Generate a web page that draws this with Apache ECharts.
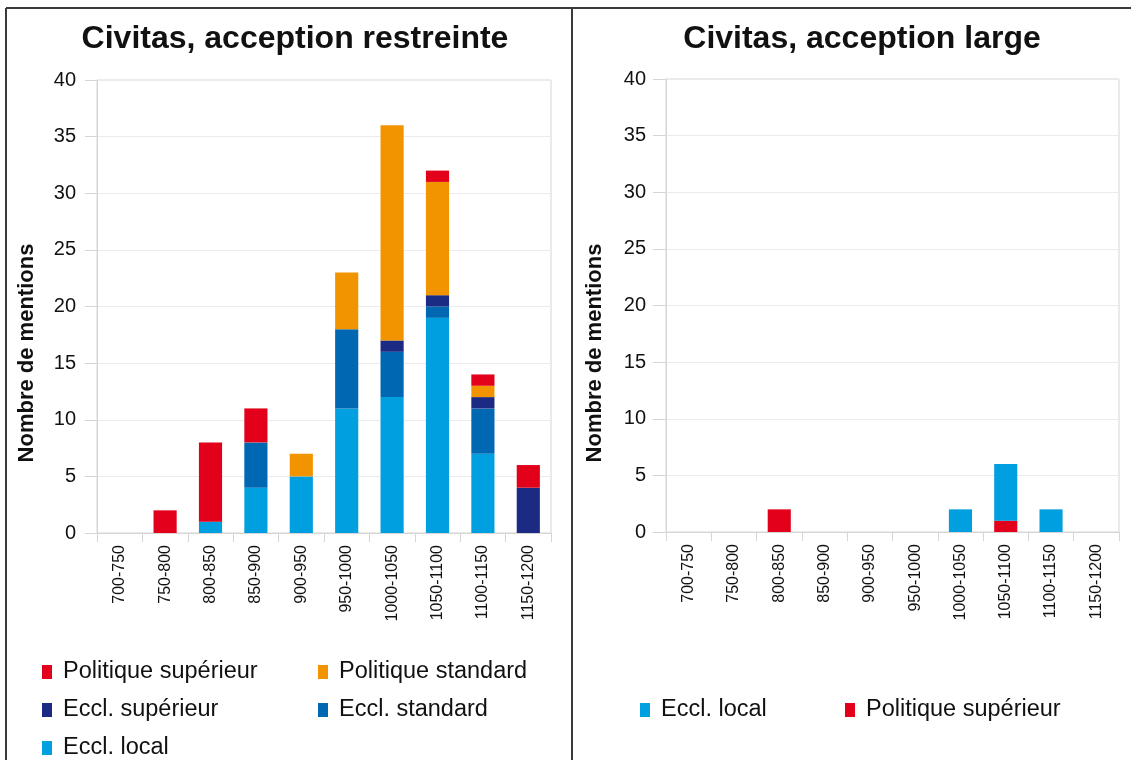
<!DOCTYPE html>
<html><head><meta charset="utf-8">
<script src="https://cdn.jsdelivr.net/npm/echarts@6/dist/echarts.min.js"></script>
<style>html,body{margin:0;padding:0;background:#fff}#c{width:1131px;height:760px}</style>
</head><body><div id="c"></div>
<script>
const categories = ['700-750','750-800','800-850','850-900','900-950','950-1000','1000-1050','1050-1100','1100-1150','1150-1200'];
const yTicks = [0,5,10,15,20,25,30,35,40];
// Left chart: Civitas, acception restreinte
const leftEcclLocal     = [0,0,1,4,5,11,12,19,7,0];
const leftEcclStandard  = [0,0,0,4,0,7,4,1,4,0];
const leftEcclSuperieur = [0,0,0,0,0,0,1,1,1,4];
const leftPolStandard   = [0,0,0,0,2,5,19,10,1,0];
const leftPolSuperieur  = [0,2,7,3,0,0,0,1,1,2];
// Right chart: Civitas, acception large
const rightPolSuperieur = [0,0,2,0,0,0,0,1,0,0];
const rightEcclLocal    = [0,0,0,0,0,0,2,5,2,0];

const C = {
  polSup: '#E2001A', polStd: '#F29400', ecclSup: '#1B2A83', ecclStd: '#0067B2', ecclLoc: '#009FE0'
};
const FONT = 'Liberation Sans, Arial, sans-serif';
const TXT = '#111';
const gridLine = '#ebebeb';
const axisCol = '#d6d6d6';

function yAxis(idx, margin, tick){
  return {
    type:'value', gridIndex: idx, min: yTicks[0], max: yTicks[yTicks.length-1], interval: 5,
    axisLine:{show:true, lineStyle:{color:axisCol}},
    axisTick:{show:true, length:tick, lineStyle:{color:axisCol}},
    splitLine:{show:true, lineStyle:{color:gridLine}},
    axisLabel:{margin: margin, fontFamily: FONT, fontSize: 20, color: TXT}
  };
}
function xAxis(idx){
  return {
    type:'category', gridIndex: idx, data: categories,
    axisLine:{show:true, lineStyle:{color:axisCol}},
    axisTick:{show:true, length:9, alignWithLabel:false, lineStyle:{color:axisCol}},
    axisLabel:{rotate:90, margin:12, fontFamily: FONT, fontSize: 16, color: TXT, interval:0}
  };
}
function bar(name, data, color, idx, stack){
  return {name, type:'bar', stack, xAxisIndex: idx, yAxisIndex: idx, data,
    barWidth:'51%', itemStyle:{color}, emphasis:{disabled:true}};
}
function legend(name, left, top){
  return {data:[name], left, top, itemWidth:10, itemHeight:14, itemGap:0,
    selectedMode:false, icon:'rect',
    textStyle:{fontFamily: FONT, fontSize: 23.5, color: TXT, padding:[0,0,0,6]}};
}

const chart = echarts.init(document.getElementById('c'), null, {renderer:'canvas'});
chart.setOption({
  animation:false,
  backgroundColor:'#fff',
  title:[
    {text:'Civitas, acception restreinte', left:290, top:18, textAlign:'center',
     textStyle:{fontFamily: FONT, fontWeight:'bold', fontSize:32, color:TXT}},
    {text:'Civitas, acception large', left:857, top:18, textAlign:'center',
     textStyle:{fontFamily: FONT, fontWeight:'bold', fontSize:32, color:TXT}}
  ],
  grid:[
    {left:97, right:580, top:80, bottom:227, show:true, borderColor:axisCol, borderWidth:1, backgroundColor:'transparent'},
    {left:666, right:12, top:79, bottom:228, show:true, borderColor:axisCol, borderWidth:1, backgroundColor:'transparent'}
  ],
  xAxis:[xAxis(0), xAxis(1)],
  yAxis:[yAxis(0, 21, 12), yAxis(1, 20, 13)],
  legend:[
    legend('Politique supérieur', 37, 655),
    legend('Politique standard', 313, 655),
    legend('Eccl. supérieur', 37, 693),
    legend('Eccl. standard', 313, 693),
    legend('Eccl. local', 37, 731),
    legend('Eccl. local', 635, 693),
    legend('Politique supérieur', 840, 693)
  ],
  series:[
    bar('Eccl. local', leftEcclLocal, C.ecclLoc, 0, 'L'),
    bar('Eccl. standard', leftEcclStandard, C.ecclStd, 0, 'L'),
    bar('Eccl. supérieur', leftEcclSuperieur, C.ecclSup, 0, 'L'),
    bar('Politique standard', leftPolStandard, C.polStd, 0, 'L'),
    bar('Politique supérieur', leftPolSuperieur, C.polSup, 0, 'L'),
    bar('Politique supérieur', rightPolSuperieur, C.polSup, 1, 'R'),
    bar('Eccl. local', rightEcclLocal, C.ecclLoc, 1, 'R')
  ],
  graphic:[
    {type:'line', shape:{x1:6, y1:8, x2:1131, y2:8}, style:{stroke:'#3a3a3a', lineWidth:2}, silent:true},
    {type:'line', shape:{x1:6, y1:8, x2:6, y2:760}, style:{stroke:'#3a3a3a', lineWidth:2}, silent:true},
    {type:'line', shape:{x1:572, y1:8, x2:572, y2:760}, style:{stroke:'#3a3a3a', lineWidth:2}, silent:true},
    {type:'text', x:27, y:353, rotation:Math.PI/2,
     style:{text:'Nombre de mentions', font:'bold 22px ' + FONT, fill:TXT, textAlign:'center', textVerticalAlign:'middle'}},
    {type:'text', x:595, y:353, rotation:Math.PI/2,
     style:{text:'Nombre de mentions', font:'bold 22px ' + FONT, fill:TXT, textAlign:'center', textVerticalAlign:'middle'}}
  ]
});
</script></body></html>
